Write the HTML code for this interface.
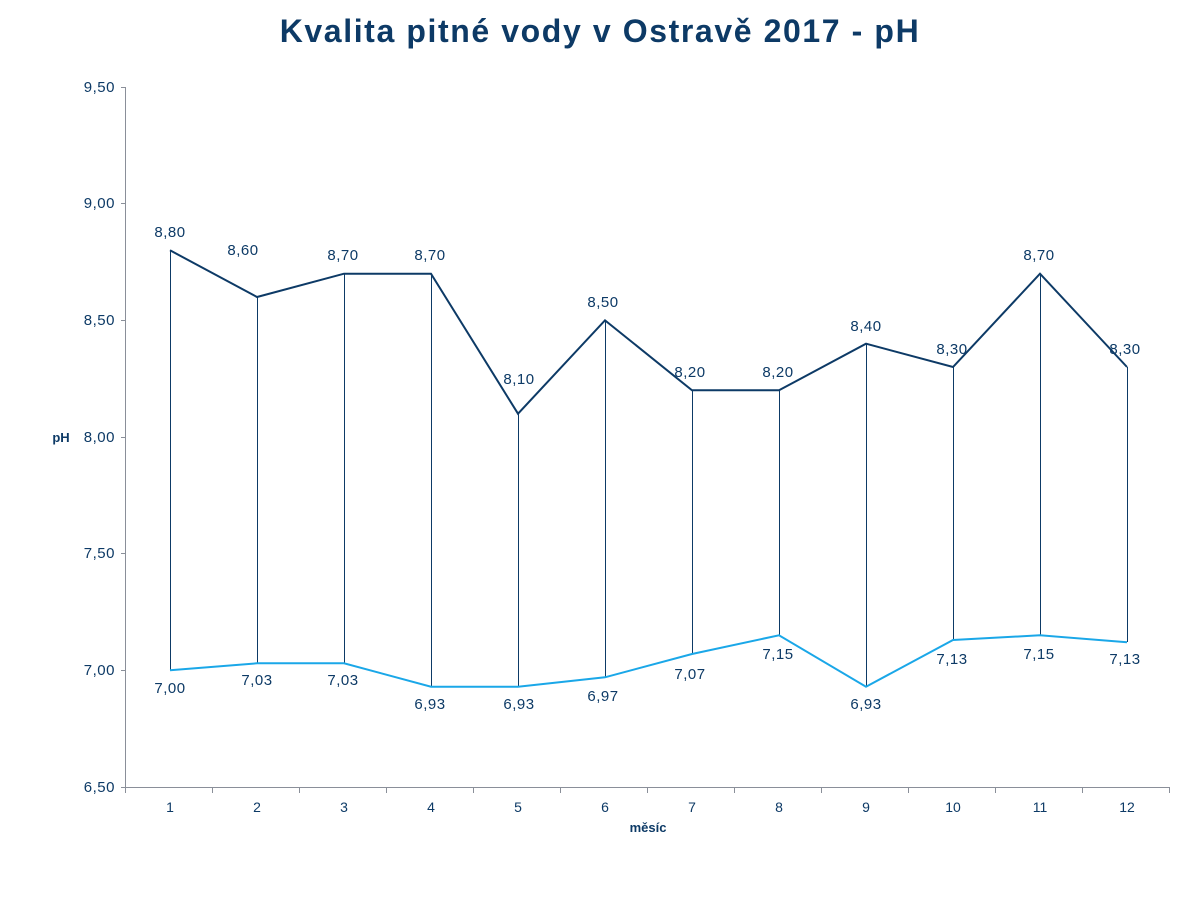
<!DOCTYPE html>
<html><head><meta charset="utf-8"><style>
body{margin:0;background:#fff;}
svg text{font-family:"Liberation Sans",sans-serif;fill:#0d3a66;}
</style></head><body>
<svg width="1200" height="900" xmlns="http://www.w3.org/2000/svg">
<text x="600" y="42" text-anchor="middle" font-size="32" font-weight="bold" letter-spacing="1.6">Kvalita pitné vody v Ostravě 2017 - pH</text>
<g stroke="#8a8f99" stroke-width="1" fill="none">
<line x1="125.5" y1="87" x2="125.5" y2="787"/>
<line x1="125.5" y1="787.5" x2="1170" y2="787.5"/>
<line x1="121" y1="87.5" x2="125" y2="87.5"/>
<line x1="121" y1="203.5" x2="125" y2="203.5"/>
<line x1="121" y1="320.5" x2="125" y2="320.5"/>
<line x1="121" y1="437.5" x2="125" y2="437.5"/>
<line x1="121" y1="553.5" x2="125" y2="553.5"/>
<line x1="121" y1="670.5" x2="125" y2="670.5"/>
<line x1="121" y1="787.5" x2="125" y2="787.5"/>
<path d="M125.5 787v6M212.5 787v6M299.5 787v6M386.5 787v6M473.5 787v6M560.5 787v6M647.5 787v6M734.5 787v6M821.5 787v6M908.5 787v6M995.5 787v6M1082.5 787v6M1169.5 787v6"/>
</g>
<g font-size="15" text-anchor="end" letter-spacing="0.5">
<text x="115" y="92">9,50</text><text x="115" y="208">9,00</text><text x="115" y="325">8,50</text><text x="115" y="442">8,00</text><text x="115" y="558">7,50</text><text x="115" y="675">7,00</text><text x="115" y="792">6,50</text>
</g>
<text x="61" y="442" font-size="13" font-weight="bold" text-anchor="middle">pH</text>
<g font-size="14" text-anchor="middle">
<text x="170" y="812">1</text><text x="257" y="812">2</text><text x="344" y="812">3</text><text x="431" y="812">4</text><text x="518" y="812">5</text><text x="605" y="812">6</text><text x="692" y="812">7</text><text x="779" y="812">8</text><text x="866" y="812">9</text><text x="953" y="812">10</text><text x="1040" y="812">11</text><text x="1127" y="812">12</text>
</g>
<text x="648" y="832" font-size="13" font-weight="bold" text-anchor="middle">měsíc</text>
<g stroke="#0d3a66" stroke-width="1">
<path d="M170.5 250V670M257.5 297V663M344.5 274V663M431.5 274V687M518.5 414V687M605.5 320V677M692.5 390V654M779.5 390V635M866.5 344V687M953.5 367V640M1040.5 274V635M1127.5 367V642"/>
</g>
<polyline fill="none" stroke="#0d3a66" stroke-width="2" points="170,250.3 257,297 344,273.7 431,273.7 518,413.7 605,320.3 692,390.3 779,390.3 866,343.7 953,367 1040,273.7 1127,367"/>
<polyline fill="none" stroke="#1aa7e8" stroke-width="2" points="170,670.3 257,663.3 344,663.3 431,686.7 518,686.7 605,677.3 692,654 779,635.3 866,686.7 953,640 1040,635.3 1127,642.3"/>
<g font-size="15" text-anchor="middle" letter-spacing="0.5">
<text x="170" y="237">8,80</text><text x="243" y="255">8,60</text><text x="343" y="260">8,70</text><text x="430" y="260">8,70</text><text x="519" y="384">8,10</text><text x="603" y="307">8,50</text><text x="690" y="377">8,20</text><text x="778" y="377">8,20</text><text x="866" y="331">8,40</text><text x="952" y="354">8,30</text><text x="1039" y="260">8,70</text><text x="1125" y="354">8,30</text>
<text x="170" y="693">7,00</text><text x="257" y="685">7,03</text><text x="343" y="685">7,03</text><text x="430" y="709">6,93</text><text x="519" y="709">6,93</text><text x="603" y="701">6,97</text><text x="690" y="679">7,07</text><text x="778" y="659">7,15</text><text x="866" y="709">6,93</text><text x="952" y="664">7,13</text><text x="1039" y="659">7,15</text><text x="1125" y="664">7,13</text>
</g>
</svg>
</body></html>
